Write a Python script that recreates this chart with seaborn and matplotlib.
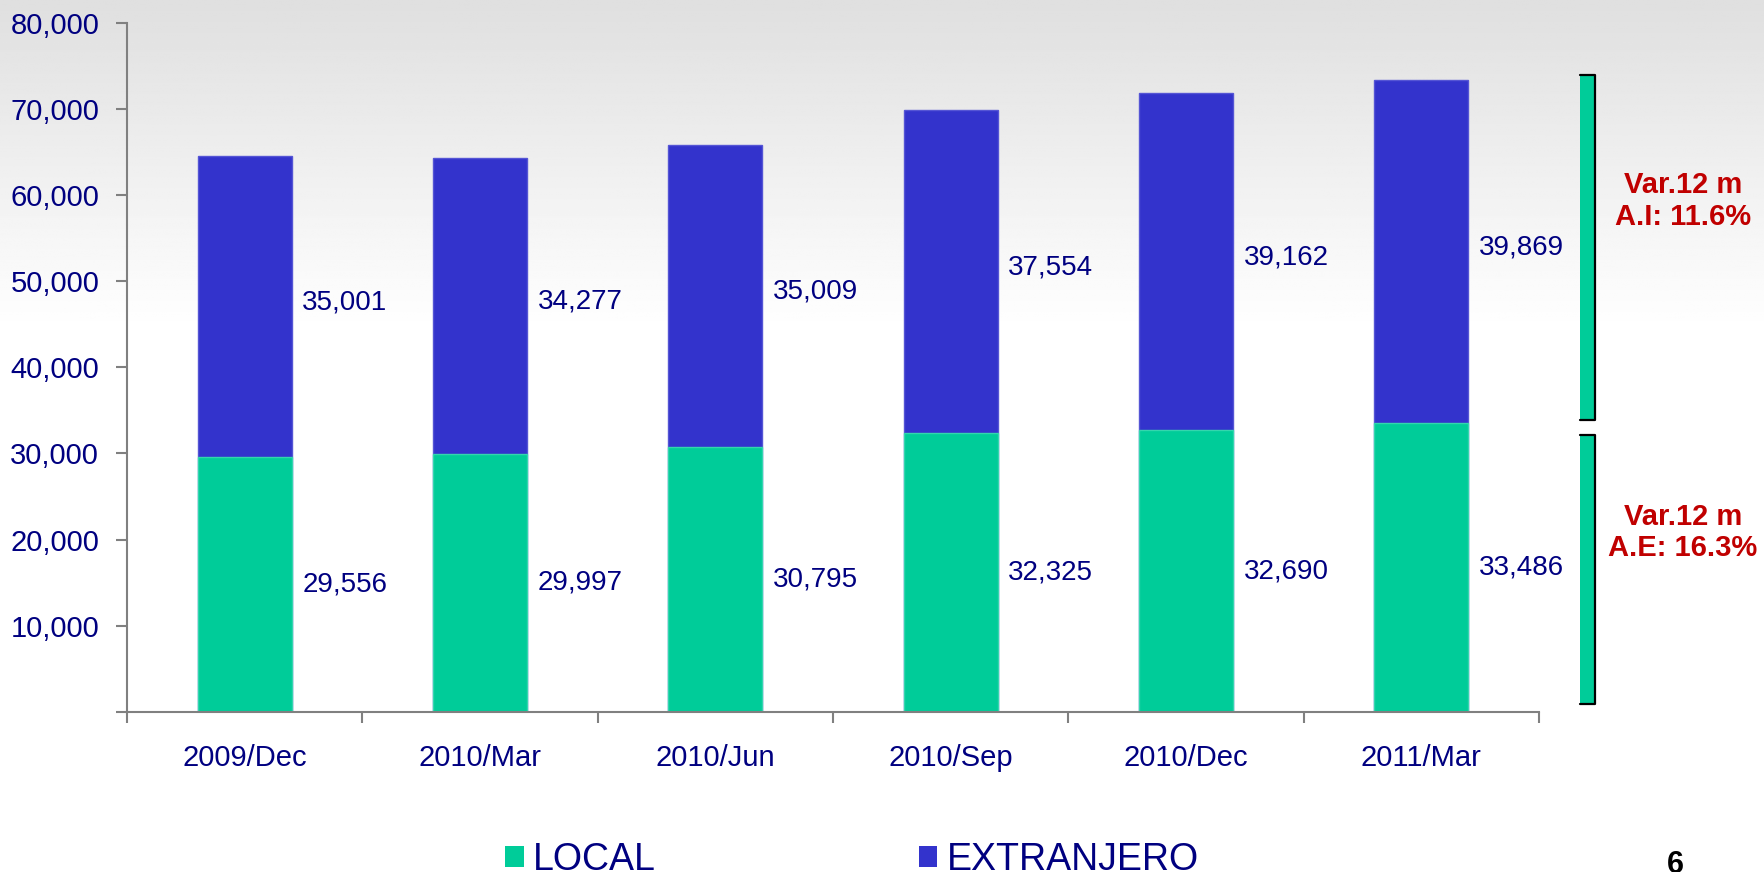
import numpy as np
import matplotlib
matplotlib.use("Agg")
import matplotlib.pyplot as plt
from matplotlib.patches import Patch, Rectangle
import seaborn as sns
import pandas as pd

# data
periods = ["2009/Dec", "2010/Mar", "2010/Jun", "2010/Sep", "2010/Dec", "2011/Mar"]
local = [29556, 29997, 30795, 32325, 32690, 33486]
extranjero = [35001, 34277, 35009, 37554, 39162, 39869]

# side brackets (y spans) and their notes
bracket_lo = [33900, 900]
bracket_hi = [73900, 32100]
bracket_notes = ["Var.12 m\nA.I: 11.6%", "Var.12 m\nA.E: 16.3%"]
note_y = [59300, 20800]

GREEN = "#00CC99"
BLUE = "#3333CC"
NAVY = "#000080"
RED = "#C00000"

df = pd.DataFrame({"periodo": periods, "local": local, "extranjero": extranjero})
df["total"] = df["local"] + df["extranjero"]

sns.set_style("white")
plt.rcParams["font.family"] = ["Liberation Sans", "DejaVu Sans"]

fig = plt.figure(figsize=(17.64, 8.72), dpi=100)

# background: light grey fading to white
bg = fig.add_axes([0, 0, 1, 1], zorder=-10)
yy = np.linspace(0, 1, 400)
shade = 0.875 + 0.125 * np.clip(yy / 0.38, 0, 1)
bg.imshow(np.tile(shade[:, None], (1, 10)), cmap="gray", vmin=0, vmax=1,
          aspect="auto", extent=[0, 1, 1, 0])
bg.set_xlim(0, 1)
bg.set_ylim(1, 0)
bg.axis("off")

ax = fig.add_axes([0.072, 0.1835, 0.8005, 0.7905])
ax.set_facecolor("none")

# stacked bars: total in blue, local on top of it in green
sns.barplot(data=df, x="periodo", y="total", color=BLUE, saturation=1,
            width=0.4, ax=ax, linewidth=1, edgecolor="#5555D5")
sns.barplot(data=df, x="periodo", y="local", color=GREEN, saturation=1,
            width=0.4, ax=ax, linewidth=1, edgecolor="#33D6AD")

ax.set_xlim(-0.5, len(periods) - 0.5)
ax.set_ylim(0, 80000)
ax.set_xlabel("")
ax.set_ylabel("")

# value labels next to the bars
for i in range(len(periods)):
    ax.text(i + 0.245, local[i] / 2, f"{local[i]:,}", ha="left",
            va="center", fontsize=20, color=NAVY)
    ax.text(i + 0.245, local[i] + extranjero[i] / 2 + 500, f"{extranjero[i]:,}",
            ha="left", va="center", fontsize=20, color=NAVY)

# axes styling
for s in ["top", "right"]:
    ax.spines[s].set_visible(False)
for s in ["left", "bottom"]:
    ax.spines[s].set_color("#808080")
    ax.spines[s].set_linewidth(1.5)

yt = np.arange(0, 80001, 10000)
ax.set_yticks(yt)
ax.set_yticklabels(["" if v == 0 else f"{v:,}" for v in yt], fontsize=21, color=NAVY)
ax.tick_params(axis="y", direction="out", length=8, width=1.5, color="#808080",
               pad=12, left=True)

ax.set_xticks(range(len(periods)))
ax.set_xticklabels(periods, fontsize=21, color=NAVY)
ax.tick_params(axis="x", which="major", length=0, pad=23)
ax.set_xticks(np.arange(-0.5, len(periods)), minor=True)
ax.tick_params(axis="x", which="minor", direction="out", length=8, width=1.5,
               color="#808080", bottom=True)

# brackets with notes on the right
bx0, bw = 5.674, 0.064
for lo, hi, note, ny in zip(bracket_lo, bracket_hi, bracket_notes, note_y):
    ax.add_patch(Rectangle((bx0, lo), bw, hi - lo, facecolor=GREEN,
                           edgecolor="none", clip_on=False, zorder=3))
    ax.plot([bx0, bx0 + bw, bx0 + bw, bx0], [hi, hi, lo, lo], color="black",
            lw=1.6, clip_on=False, zorder=4)
    ax.text(6.11, ny, note, ha="center", va="center", fontsize=21,
            fontweight="bold", color=RED, linespacing=1.15)

# legend at the bottom
handles = [Patch(facecolor=GREEN, edgecolor="none"),
           Patch(facecolor=BLUE, edgecolor="none")]
fig.legend(handles, ["LOCAL", "EXTRANJERO"], loc="center",
           bbox_to_anchor=(0.483, 0.014), ncol=2, frameon=False, fontsize=27,
           labelcolor=NAVY, handlelength=0.5, handleheight=0.5,
           handletextpad=0.25, columnspacing=7.0)

fig.text(0.95, 1 - 850 / 872, "6", ha="center", va="top", fontsize=22,
         fontweight="bold", color="black")

fig.savefig("out.png", dpi=100)
